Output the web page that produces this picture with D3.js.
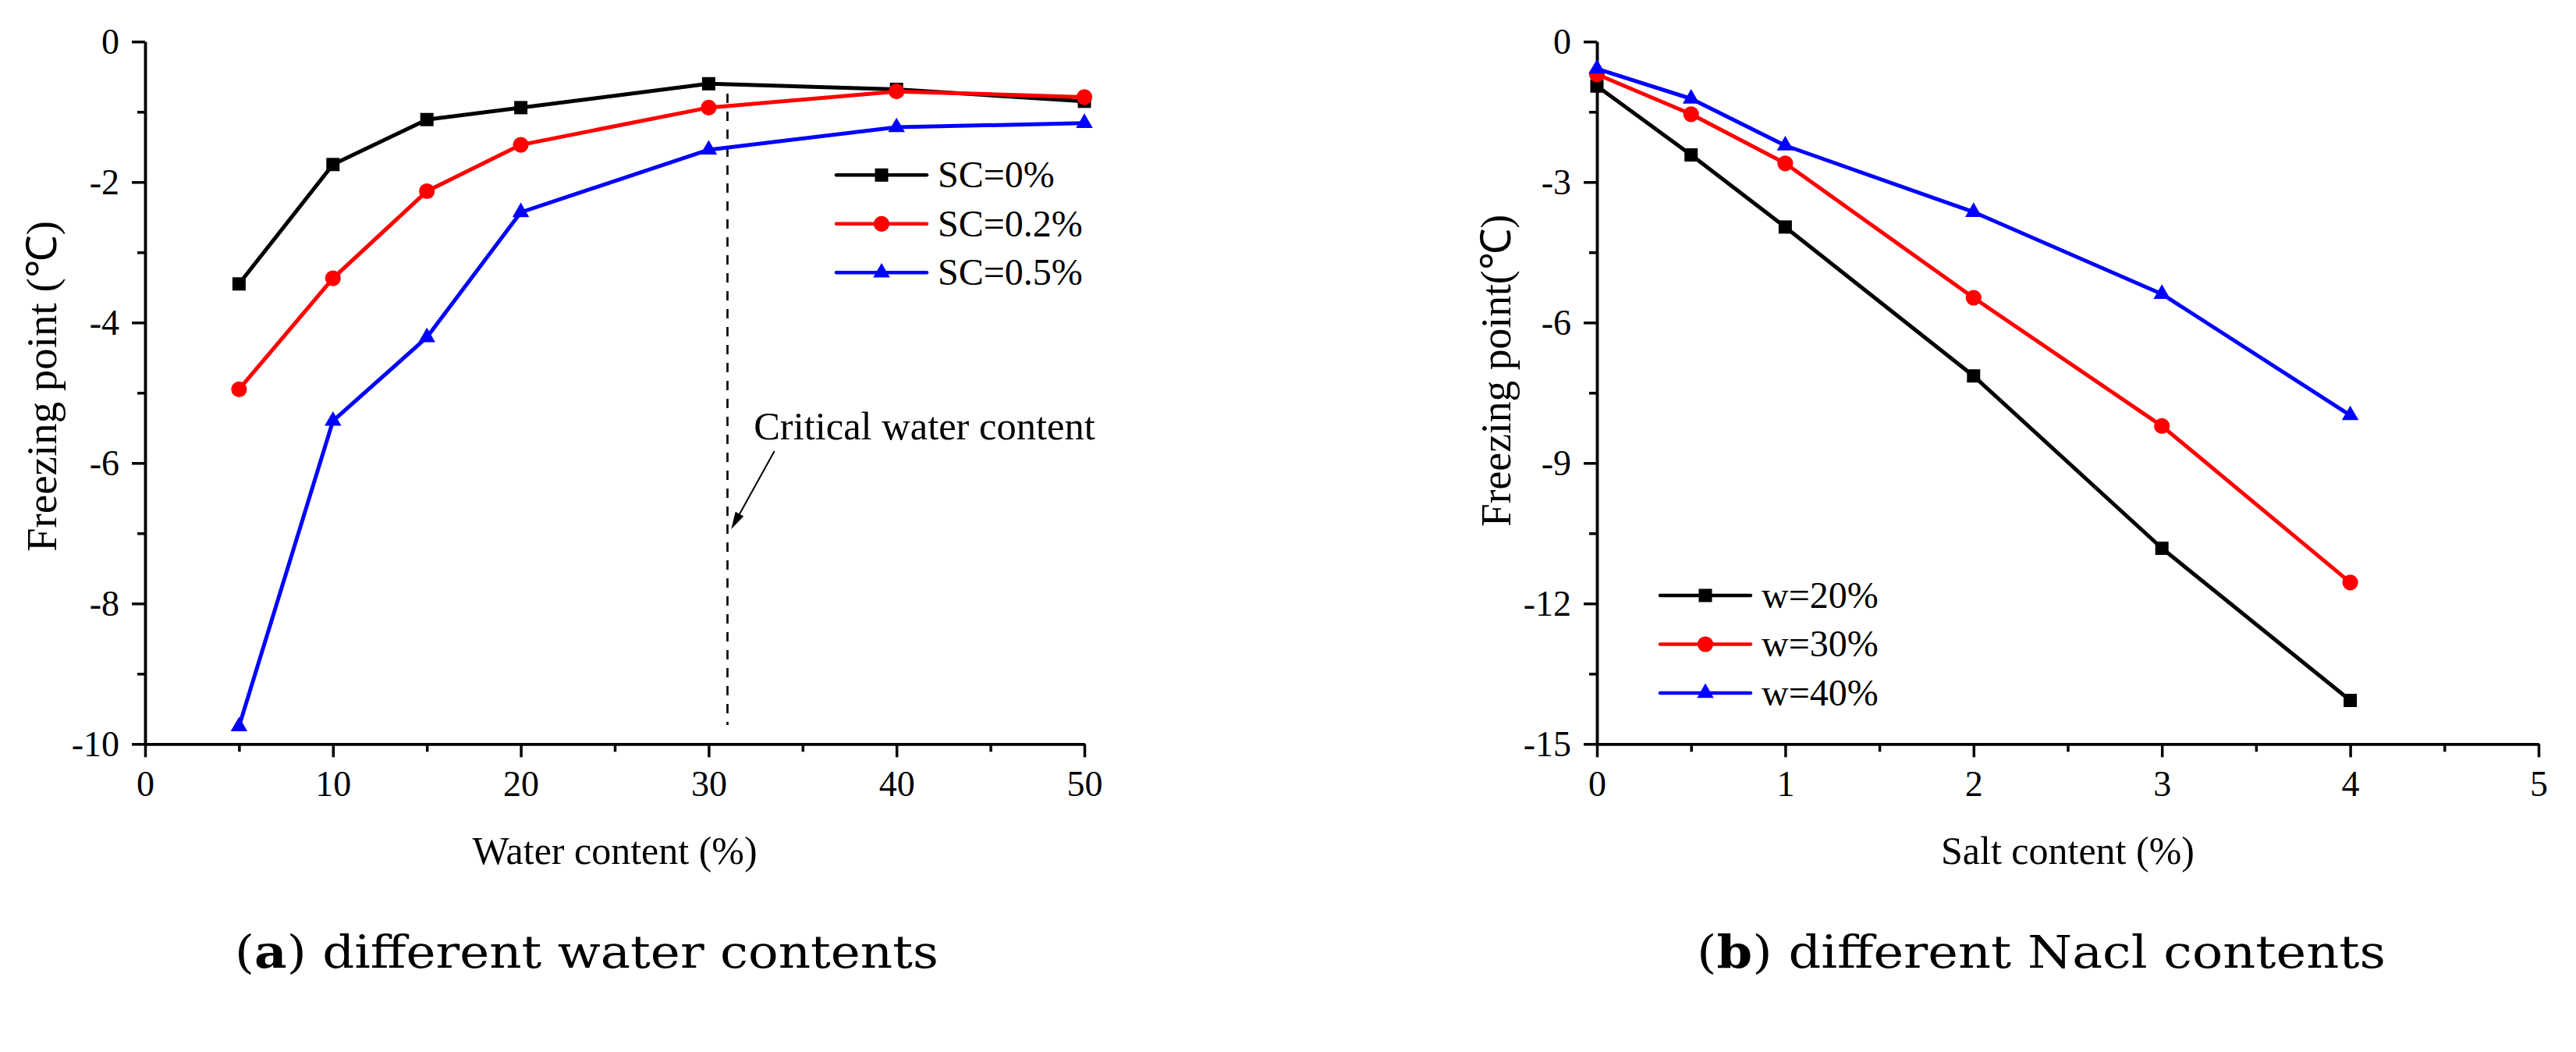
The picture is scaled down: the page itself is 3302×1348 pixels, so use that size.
<!DOCTYPE html>
<html>
<head>
<meta charset="utf-8">
<script src="https://cdnjs.cloudflare.com/ajax/libs/d3/7.8.5/d3.min.js"></script>
<style>
  body { margin: 0; background: #fff; }
  svg { display: block; }
</style>
</head>
<body>
<div id="chart"></div>
<script>
// ---- data ----
var waterContent = [5, 10, 15, 20, 30, 40, 50];
var sc0  = [-3.45, -1.75, -1.11, -0.94, -0.60, -0.68, -0.85];
var sc02 = [-4.95, -3.37, -2.13, -1.47, -0.94, -0.71, -0.79];
var sc05 = [-9.75, -5.40, -4.21, -2.43, -1.54, -1.22, -1.16];

var saltContent = [0, 0.5, 1, 2, 3, 4];
var w20 = [-0.95, -2.42, -3.96, -7.14, -10.82, -14.07];
var w30 = [-0.70, -1.55, -2.60, -5.47, -8.21, -11.55];
var w40 = [-0.58, -1.22, -2.22, -3.64, -5.39, -7.98];

var namesA = ['SC=0%', 'SC=0.2%', 'SC=0.5%'];
var namesB = ['w=20%', 'w=30%', 'w=40%'];

var ticksAx = [0, 10, 20, 30, 40, 50];
var ticksAy = [0, -2, -4, -6, -8, -10];
var ticksBx = [0, 1, 2, 3, 4, 5];
var ticksBy = [0, -3, -6, -9, -12, -15];

var criticalW = 31; // dashed line position
var criticalLabel = 'Critical water content';

var colors = ['#000000', '#ff0000', '#0000ff'];
var shapes = [d3.symbolSquare, d3.symbolCircle, d3.symbolTriangle];
var shapeSize = [289, 320, 200];

var SERIF = '"Liberation Serif", "Times New Roman", Tinos, serif';
var CAPFONT = '"Palatino Linotype", "Book Antiqua", Palatino, "DejaVu Serif", serif';

var W = 3302, H = 1348;
var svg = d3.select('#chart').append('svg')
  .attr('width', W)
  .attr('height', H);
svg.append('rect').attr('width', W).attr('height', H).attr('fill', '#fff');

function serifText(sel, size) {
  return sel.style('font-family', SERIF).style('font-size', size + 'px').attr('fill', '#000');
}

function drawPanel(o) {
  var x = d3.scaleLinear().domain(o.xDomain).range(o.xRange);
  var y = d3.scaleLinear().domain(o.yDomain).range([53.3, 953.3]);
  var g = svg.append('g');

  // minor ticks
  g.append('g')
    .attr('transform', 'translate(0,' + y.range()[1] + ')')
    .call(d3.axisBottom(x).tickValues(o.xMinor).tickSize(10).tickSizeOuter(0).tickFormat(''))
    .call(styleAxis);
  g.append('g')
    .attr('transform', 'translate(' + x.range()[0] + ',0)')
    .call(d3.axisLeft(y).tickValues(o.yMinor).tickSize(10).tickSizeOuter(0).tickFormat(''))
    .call(styleAxis);

  // major ticks + labels
  g.append('g')
    .attr('transform', 'translate(0,' + y.range()[1] + ')')
    .call(d3.axisBottom(x).tickValues(o.xTicks).tickSize(17).tickSizeOuter(0)
      .tickPadding(17).tickFormat(function (d) { return String(d); }))
    .call(styleAxis);
  g.append('g')
    .attr('transform', 'translate(' + x.range()[0] + ',0)')
    .call(d3.axisLeft(y).tickValues(o.yTicks).tickSize(17).tickSizeOuter(0)
      .tickPadding(16).tickFormat(function (d) { return String(d); }))
    .call(styleAxis);

  if (o.extra) o.extra(g, x, y);

  var line = d3.line()
    .x(function (d) { return x(d[0]); })
    .y(function (d) { return y(d[1]); });

  o.series.forEach(function (s, i) {
    var pts = o.xs.map(function (v, j) { return [v, s[j]]; });
    g.append('path')
      .datum(pts)
      .attr('fill', 'none')
      .attr('stroke', colors[i])
      .attr('stroke-width', 5)
      .attr('stroke-linejoin', 'round')
      .attr('d', line);
    g.selectAll('.m' + i)
      .data(pts)
      .enter().append('path')
      .attr('class', 'm' + i)
      .attr('fill', colors[i])
      .attr('transform', function (d) { return 'translate(' + x(d[0]) + ',' + y(d[1]) + ')'; })
      .attr('d', d3.symbol().type(shapes[i]).size(shapeSize[i]));
  });

  // legend
  o.names.forEach(function (n, i) {
    var ly = o.legendY + i * 62.5;
    var lg = g.append('g');
    lg.append('line')
      .attr('x1', o.legendX).attr('x2', o.legendX + 116)
      .attr('y1', ly).attr('y2', ly)
      .attr('stroke', colors[i]).attr('stroke-width', 4.5)
      .attr('stroke-linecap', 'round');
    lg.append('path')
      .attr('fill', colors[i])
      .attr('transform', 'translate(' + (o.legendX + 58) + ',' + ly + ')')
      .attr('d', d3.symbol().type(shapes[i]).size(shapeSize[i]));
    lg.append('text')
      .attr('x', o.legendX + 130)
      .attr('y', ly)
      .attr('dy', '0.33em')
      .call(serifText, 48)
      .text(n);
  });

  // axis titles
  g.append('text')
    .attr('x', (x.range()[0] + x.range()[1]) / 2)
    .attr('y', 1107)
    .attr('text-anchor', 'middle')
    .call(serifText, 50)
    .text(o.xTitle);
  g.append('text')
    .attr('transform', 'translate(' + o.yTitleX + ',' + o.yTitleY + ') rotate(-90)')
    .attr('text-anchor', 'middle')
    .attr('textLength', o.yTitleLen)
    .attr('lengthAdjust', 'spacingAndGlyphs')
    .call(serifText, 54)
    .text(o.yTitle);

  // caption
  var cap = g.append('text')
    .attr('x', o.capX)
    .attr('y', 1240)
    .attr('textLength', o.capLen)
    .attr('lengthAdjust', 'spacingAndGlyphs')
    .attr('fill', '#000')
    .style('font-family', CAPFONT)
    .style('font-size', '57px');
  cap.append('tspan').text('(');
  cap.append('tspan').style('font-weight', 'bold').text(o.capLetter);
  cap.append('tspan').text(') ' + o.capText);
}

function styleAxis(sel) {
  sel.attr('font-family', null).attr('font-size', null);
  sel.select('.domain').attr('stroke', '#000').attr('stroke-width', 3.5);
  sel.selectAll('.tick line').attr('stroke', '#000').attr('stroke-width', 3.5);
  sel.selectAll('.tick text').call(serifText, 46);
}

drawPanel({
  xDomain: [0, 50], xRange: [186, 1390],
  yDomain: [0, -10],
  xTicks: ticksAx, yTicks: ticksAy,
  xMinor: [5, 15, 25, 35, 45], yMinor: [-1, -3, -5, -7, -9],
  xs: waterContent, series: [sc0, sc02, sc05], names: namesA,
  legendX: 1072, legendY: 224.3,
  xTitle: 'Water content (%)',
  yTitle: 'Freezing point (℃)', yTitleX: 72, yTitleY: 495, yTitleLen: 424,
  capX: 301, capLen: 902, capLetter: 'a', capText: 'different water contents',
  extra: function (g, x, y) {
    g.append('line')
      .attr('x1', x(criticalW)).attr('x2', x(criticalW))
      .attr('y1', y(-0.74)).attr('y2', y(-9.73))
      .attr('stroke', '#000').attr('stroke-width', 2.7)
      .attr('stroke-dasharray', '12,11');
    var x0 = x(33.5), y0 = y(-5.83), x1 = x(31.2), y1 = y(-6.94);
    var ang = Math.atan2(y1 - y0, x1 - x0);
    var hl = 22, hw = 6;
    var bx = x1 - hl * Math.cos(ang), by = y1 - hl * Math.sin(ang);
    g.append('line')
      .attr('x1', x0).attr('y1', y0).attr('x2', bx).attr('y2', by)
      .attr('stroke', '#000').attr('stroke-width', 2);
    g.append('path')
      .attr('fill', '#000')
      .attr('d', 'M' + x1 + ',' + y1 +
        'L' + (bx + hw * Math.sin(ang)) + ',' + (by - hw * Math.cos(ang)) +
        'L' + (bx - hw * Math.sin(ang)) + ',' + (by + hw * Math.cos(ang)) + 'Z');
    g.append('text')
      .attr('x', x(32.4))
      .attr('y', y(-5.66))
      .call(serifText, 50.5)
      .text(criticalLabel);
  }
});

drawPanel({
  xDomain: [0, 5], xRange: [2047, 3254],
  yDomain: [0, -15],
  xTicks: ticksBx, yTicks: ticksBy,
  xMinor: [0.5, 1.5, 2.5, 3.5, 4.5], yMinor: [-1.5, -4.5, -7.5, -10.5, -13.5],
  xs: saltContent, series: [w20, w30, w40], names: namesB,
  legendX: 2128, legendY: 763,
  xTitle: 'Salt content (%)',
  yTitle: 'Freezing point(℃)', yTitleX: 1936, yTitleY: 475, yTitleLen: 400,
  capX: 2175, capLen: 883, capLetter: 'b', capText: 'different Nacl contents'
});
</script>
</body>
</html>
